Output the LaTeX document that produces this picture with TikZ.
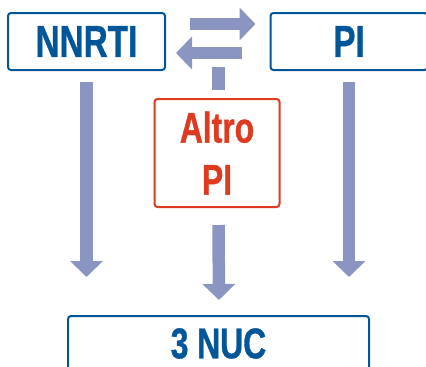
\documentclass[tikz,border=0pt]{standalone}
\usepackage{fontspec}
\newfontfamily\cond[FakeStretch=0.74, BoldFeatures={FakeBold=0.8}]{Liberation Sans}
\usetikzlibrary{arrows.meta,calc}
\definecolor{boxblue}{RGB}{0,86,152}
\definecolor{boxred}{RGB}{222,58,32}
\definecolor{arrowgray}{RGB}{138,150,193}
\tikzset{
  box/.style={draw, line width=2pt, rounded corners=3pt, fill=white, inner sep=0pt, font=\cond\bfseries\fontsize{45}{52}\selectfont},
  bluebox/.style={box, draw=boxblue, text=boxblue},
  redbox/.style={box, draw=boxred, text=boxred},
  fat/.style={draw=arrowgray, line width=12.5pt, -{Triangle[width=32pt,length=16pt]}},
  stub/.style={draw=arrowgray, line width=13pt}
}
\begin{document}
\begin{tikzpicture}[x=1pt,y=-1pt]
\useasboundingbox (0,0) rectangle (426,367);
\node[bluebox, minimum width=157pt, minimum height=57pt] (nnrti) at (86.5,41.5) {NNRTI};
\node[bluebox, minimum width=157pt, minimum height=57pt] (pi) at (349,41.5) {PI};
\node[redbox, minimum width=125pt, minimum height=108pt, align=center, font=\cond\bfseries\fontsize{43}{52}\selectfont] (altro) at (217,153) {Altro\\PI};
\node[bluebox, minimum width=301pt, minimum height=55pt, font=\cond\bfseries\fontsize{43}{52}\selectfont] (nuc) at (218.5,343.5) {3 NUC};
% horizontal exchange arrows
\draw[fat] ($(nnrti.east)+(24,-17.5)$) -- ($(pi.west)+(-14,-17.5)$);
\draw[fat] ($(pi.west)+(-28,11.5)$) -- ($(nnrti.east)+(10,11.5)$);
% stub above Altro PI
\draw[stub] ($(altro.north)+(1.5,-8)$) -- ($(altro.north)+(1.5,-31)$);
% vertical arrows
\draw[fat] ($(nnrti.south)+(0,11)$) -- ($(nuc.north -| nnrti.south)+(0,-38)$);
\draw[fat] ($(pi.south)+(0,11)$) -- ($(nuc.north -| pi.south)+(0,-38)$);
\draw[fat] ($(altro.south)+(1.5,17)$) -- ($(nuc.north)+(0.5,-15)$);
\end{tikzpicture}
\end{document}
